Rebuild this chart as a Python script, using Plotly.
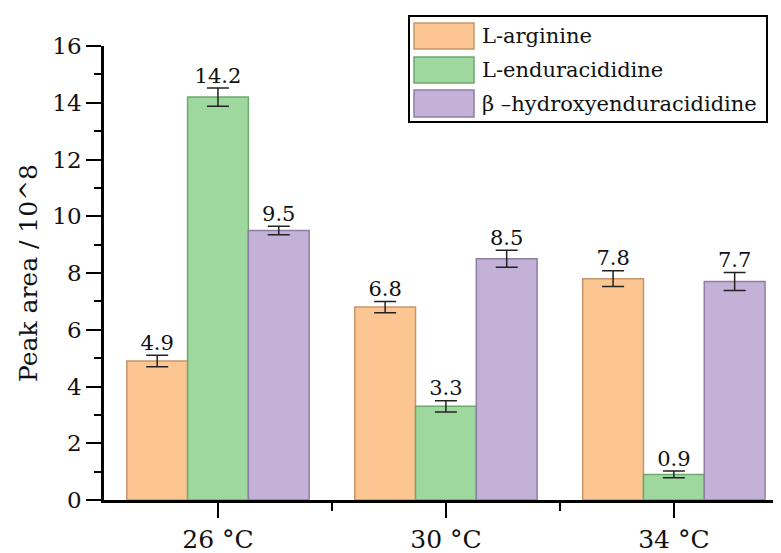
import plotly.graph_objects as go

categories = ["26 °C", "30 °C", "34 °C"]
series_names = ["L-arginine", "L-enduracididine", "β –hydroxyenduracididine"]
arginine = [4.9, 6.8, 7.8]
arginine_err = [0.2, 0.2, 0.28]
enduracididine = [14.2, 3.3, 0.9]
enduracididine_err = [0.32, 0.2, 0.12]
hydroxy = [9.5, 8.5, 7.7]
hydroxy_err = [0.15, 0.3, 0.32]
y_ticks = [0, 2, 4, 6, 8, 10, 12, 14, 16]

values = [arginine, enduracididine, hydroxy]
errors = [arginine_err, enduracididine_err, hydroxy_err]
fills = ["#FBC692", "#9FD89E", "#C3B1D7"]
edges = ["#C4966B", "#6FA86E", "#8E7EA4"]

FONT = "DejaVu Serif"
OFF = 8  # page body margin
W, H = 781, 553
ML, MT = 104 - OFF, 46 - OFF
MR = OFF
MB = H - (500 - OFF)
PW, PH = W - ML - MR, H - MT - MB

xpos = list(range(len(categories)))
bargap = 0.2
bw = (1 - bargap) / 3

fig = go.Figure()
for i in range(3):
    fig.add_trace(go.Bar(
        x=xpos, y=values[i], name=series_names[i],
        marker=dict(color=fills[i], line=dict(color=edges[i], width=1.5)),
        error_y=dict(type="data", array=errors[i], color="#222222",
                     thickness=1.5, width=11),
        showlegend=False,
    ))
for i in range(3):
    off = (i - 1) * bw
    fig.add_trace(go.Scatter(
        x=[x + off for x in xpos],
        y=[v + e for v, e in zip(values[i], errors[i])],
        mode="text", text=[f"{v:.1f}" for v in values[i]],
        textposition="top center",
        textfont=dict(family=FONT, size=21, color="#111111"),
        showlegend=False, hoverinfo="skip", cliponaxis=False,
    ))

def px2x(p):
    return (p - OFF - ML) / PW

def py2y(p):
    return 1 - (p - OFF - MT) / PH

shapes = []
annotations = []
shapes.append(dict(type="rect", xref="paper", yref="paper",
                   x0=px2x(409), x1=px2x(767), y0=py2y(122), y1=py2y(16),
                   line=dict(color="black", width=2), fillcolor="white", layer="above"))
rows = [(23, 49), (57, 83), (90, 117)]
for i, (t, b) in enumerate(rows):
    shapes.append(dict(type="rect", xref="paper", yref="paper",
                       x0=px2x(414), x1=px2x(474), y0=py2y(b), y1=py2y(t),
                       line=dict(color=edges[i], width=1.5), fillcolor=fills[i], layer="above"))
    annotations.append(dict(xref="paper", yref="paper", x=px2x(480), y=py2y((t + b) / 2),
                            xanchor="left", yanchor="middle", showarrow=False,
                            text=series_names[i],
                            font=dict(family=FONT, size=21, color="#111111")))

fig.update_layout(
    width=W, height=H,
    margin=dict(l=ML, r=MR, t=MT, b=MB, pad=0),
    paper_bgcolor="white", plot_bgcolor="white",
    barmode="group", bargap=bargap, bargroupgap=0,
    shapes=shapes, annotations=annotations,
    font=dict(family=FONT, color="#111111"),
    xaxis=dict(
        range=[-0.5, 2.47], tickmode="array", tickvals=xpos, ticktext=categories,
        showline=True, linecolor="black", linewidth=2.5,
        ticks="outside", ticklen=15, tickwidth=2, tickcolor="black",
        minor=dict(tickmode="array", tickvals=[0.5, 1.5], ticks="outside",
                   ticklen=8, tickwidth=2, tickcolor="black"),
        showgrid=False, zeroline=False,
        tickfont=dict(family=FONT, size=25, color="#111111"),
    ),
    yaxis=dict(
        range=[0, 16], tickmode="array", tickvals=y_ticks,
        showline=True, linecolor="black", linewidth=2.5,
        ticks="outside", ticklen=15, tickwidth=2, tickcolor="black",
        minor=dict(tickmode="array", tickvals=[1, 3, 5, 7, 9, 11, 13, 15],
                   ticks="outside", ticklen=7, tickwidth=2, tickcolor="black"),
        showgrid=False, zeroline=False,
        tickfont=dict(family=FONT, size=23, color="#111111"),
        title=dict(text="Peak area / 10^8", font=dict(family=FONT, size=25, color="#111111"),
                   standoff=8),
    ),
)

fig.write_html("out.html")
